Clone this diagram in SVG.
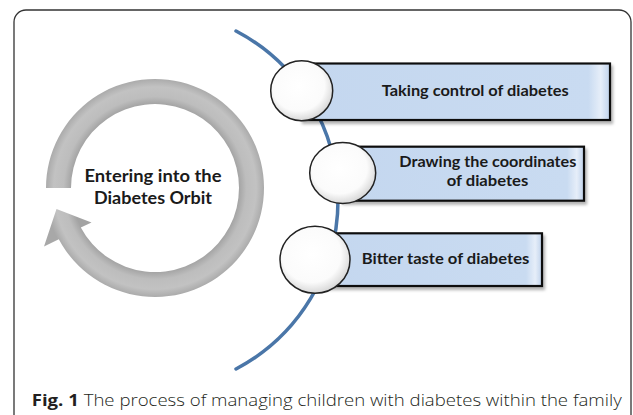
<svg xmlns="http://www.w3.org/2000/svg" width="633" height="415" viewBox="0 0 633 415">
  <defs>
    <radialGradient id="ringGrad" gradientUnits="userSpaceOnUse" cx="155" cy="188" r="110">
      <stop offset="0.76" stop-color="#a3a3a3"/>
      <stop offset="0.83" stop-color="#bdbdbd"/>
      <stop offset="0.92" stop-color="#c2c2c2"/>
      <stop offset="1" stop-color="#a8a8a8"/>
    </radialGradient>
    <radialGradient id="ballGrad" cx="0.45" cy="0.42" r="0.6">
      <stop offset="0" stop-color="#ffffff"/>
      <stop offset="0.7" stop-color="#fbfbfb"/>
      <stop offset="1" stop-color="#d4d4d4"/>
    </radialGradient>
    <linearGradient id="boxGrad" x1="0" y1="0" x2="1" y2="0">
      <stop offset="0" stop-color="#c4d7ef"/>
      <stop offset="0.93" stop-color="#c9dbf1"/>
      <stop offset="0.97" stop-color="#e6eef9"/>
      <stop offset="1" stop-color="#bfd2eb"/>
    </linearGradient>
    <filter id="shadow" x="-10%" y="-20%" width="120%" height="150%">
      <feDropShadow dx="2" dy="3" stdDeviation="1.5" flood-color="#000" flood-opacity="0.3"/>
    </filter>
  </defs>
  <style>
    .frame { fill: none; stroke: #333; stroke-width: 1.3; }
    .orbit { fill: none; stroke: #4a76a8; stroke-width: 3.5; stroke-linecap: round; }
    .box { fill: url(#boxGrad); stroke: #111; stroke-width: 2.2; filter: url(#shadow); }
    .ball { fill: url(#ballGrad); stroke: #222; stroke-width: 1.5; }
    .lbl { font-family: Lato, "Open Sans", "Liberation Sans", sans-serif; font-weight: 700; font-size: 15.5px; fill: #1a1a1a; }
    .big { font-size: 16.5px; }
    .cap { font-family: "Open Sans", "Liberation Sans", sans-serif; font-size: 16.5px; fill: #231f20; }
  </style>

  <path class="frame" d="M14,415 V22 A12,12 0 0 1 26,10 H619 A12,12 0 0 1 631,22 V415"/>

  <g id="connectors">
    <path class="orbit" d="M236,31 A191,191 0 0 1 236,369"/>
  </g>

  <g id="cycle">
    <path fill="url(#ringGrad)" d="M46,188 A109,109 0 1 1 58.8,239.2 L44,246.5 L56.5,209 L91.5,222.5 L80.8,227.4 A84,84 0 1 0 71,188 Z"/>
    <text class="lbl big" x="153" y="181.5" text-anchor="middle" textLength="137" lengthAdjust="spacingAndGlyphs">Entering into the</text>
    <text class="lbl big" x="153" y="203.5" text-anchor="middle" textLength="118" lengthAdjust="spacingAndGlyphs">Diabetes Orbit</text>
  </g>

  <g id="node1">
    <rect class="box" x="301" y="63.5" width="309" height="56.5"/>
    <ellipse class="ball" cx="301.7" cy="90.7" rx="31" ry="30"/>
    <text class="lbl" x="381.7" y="95.5" textLength="187" lengthAdjust="spacingAndGlyphs">Taking control of diabetes</text>
  </g>

  <g id="node2">
    <rect class="box" x="342" y="146.7" width="242" height="54"/>
    <ellipse class="ball" cx="342.7" cy="173" rx="33" ry="30.5"/>
    <text class="lbl" x="399.3" y="167" textLength="177" lengthAdjust="spacingAndGlyphs">Drawing the coordinates</text>
    <text class="lbl" x="446.7" y="186" textLength="81.6" lengthAdjust="spacingAndGlyphs">of diabetes</text>
  </g>

  <g id="node3">
    <rect class="box" x="315" y="233.3" width="227" height="52.7"/>
    <ellipse class="ball" cx="315" cy="259.7" rx="35" ry="33.5"/>
    <text class="lbl" x="361.7" y="263.5" textLength="167.6" lengthAdjust="spacingAndGlyphs">Bitter taste of diabetes</text>
  </g>

  <text class="cap" x="31.7" y="406" textLength="590" lengthAdjust="spacingAndGlyphs"><tspan font-weight="700">Fig. 1</tspan><tspan font-weight="300"> The process of managing children with diabetes within the family</tspan></text>
</svg>
